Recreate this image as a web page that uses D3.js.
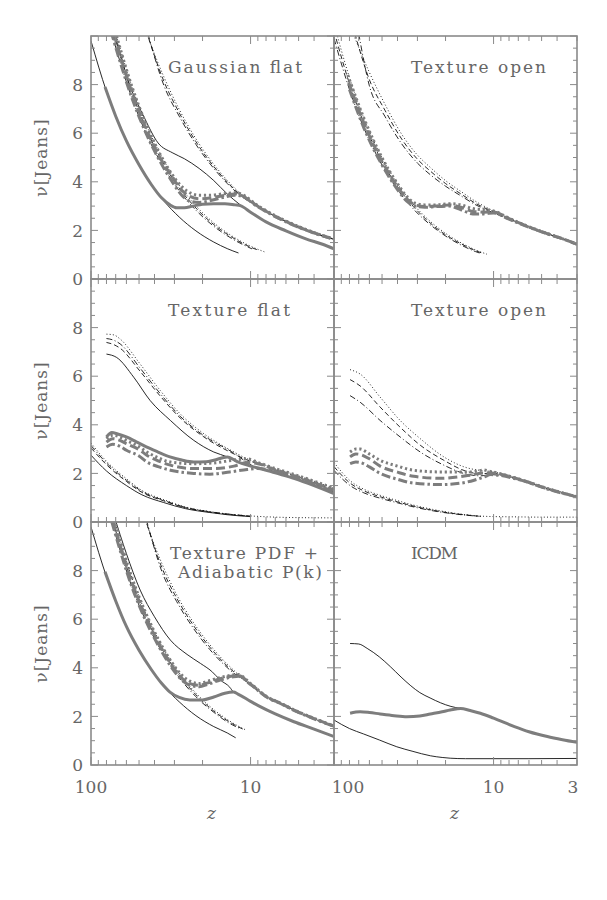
<!DOCTYPE html>
<html><head><meta charset="utf-8">
<script src="https://cdn.jsdelivr.net/npm/d3@7"></script>
<style>body{margin:0;background:#fff}svg{display:block}</style>
</head><body>
<svg id="c" width="607" height="900"></svg>
<script>
// ---------- DATA : [z, nu] pairs ----------
// Gaussian flat
const gfLoSolid = [[100,9.8],[80,7.72],[60,5.68],[45,4.19],[35,3.22],[28,2.55],[22,1.98],[17,1.52],[14,1.25],[11.9,1.07]];
const gfLoDot = [[72,10.4],[55,7.86],[45,6.35],[35,4.88],[28,3.86],[22,3.01],[17,2.31],[13,1.76],[10,1.35],[8.2,1.12]];
const gfLoDash = [[72,10.1],[55,7.62],[45,6.16],[35,4.73],[28,3.74],[22,2.92],[17,2.24],[13,1.71],[10,1.31],[8.8,1.17]];
const gfLoDashDot = [[75,10.2],[55,7.39],[45,5.97],[35,4.59],[28,3.63],[22,2.83],[17,2.17],[13,1.65],[9.8,1.24]];
const gfUpSolid = [[72,10.3],[58,8.1],[46,6.6],[38,5.6],[31,5.2],[26,4.95],[21,4.55],[17,4.05],[14,3.5],[11.6,3.05],[10,2.75],[8,2.35],[6,1.98],[4.5,1.65],[3.5,1.42],[3,1.24]];
const gfUpDot = [[46,10.3],[35,8.33],[28,6.98],[22,5.77],[17,4.72],[14,4.06],[11.5,3.5],[9,3.02],[7,2.6],[5,2.16],[4,1.91],[3,1.65]];
const gfUpDash = [[45,10.2],[35,8.15],[28,6.84],[22,5.65],[17,4.63],[14,3.99],[11.5,3.45],[9,2.99],[7,2.58],[5,2.14],[4,1.9],[3,1.64]];
const gfUpDashDot = [[44,10.1],[35,7.98],[28,6.7],[22,5.54],[17,4.55],[14,3.93],[11.5,3.42],[9,2.97],[7,2.57],[5,2.13],[4,1.89],[3,1.63]];
const gfThSolid = [[81.7,7.9],[70,6.7],[60,5.68],[50,4.7],[42,3.9],[36,3.33],[32,3.05],[29,2.93],[26,2.93],[23,3.0],[20,3.08],[17,3.1],[14.5,3.1],[12.5,3.05],[11.6,3.02],[10,2.75],[8,2.35],[6,1.98],[4.5,1.65],[3.5,1.42],[3,1.24]];
const gfThDot = [[72,10.4],[55,7.86],[45,6.35],[37,5.15],[31,4.3],[27,3.8],[24,3.55],[21,3.45],[18,3.45],[15,3.5],[12.5,3.55],[11.5,3.5],[9,3.02],[7,2.6],[5,2.16],[4,1.91],[3,1.65]];
const gfThDash = [[72,10.1],[55,7.62],[45,6.16],[37,5.0],[31,4.2],[27,3.65],[24,3.4],[21,3.3],[18,3.33],[15,3.43],[12.5,3.5],[11.5,3.45],[9,2.99],[7,2.58],[5,2.14],[4,1.9],[3,1.64]];
const gfThDashDot = [[75,10.2],[55,7.39],[45,5.97],[37,4.85],[31,4.0],[27,3.45],[24,3.2],[21,3.15],[18,3.22],[15,3.35],[12.5,3.45],[11.5,3.42],[9,2.97],[7,2.57],[5,2.13],[4,1.89],[3,1.63]];

// Texture open (top)
const toLoDot = [[100,10.5],[80,8.29],[65,6.62],[50,4.99],[40,3.92],[32,3.09],[25,2.38],[20,1.88],[16,1.49],[13,1.2],[11,1.02]];
const toLoDash = [[100,10.2],[80,8.04],[65,6.42],[50,4.84],[40,3.8],[32,3.0],[25,2.31],[20,1.82],[16,1.45],[13,1.17],[11.5,1.04]];
const toLoDashDot = [[100,9.9],[80,7.8],[65,6.22],[50,4.69],[40,3.68],[32,2.9],[25,2.24],[20,1.77],[16,1.4],[13,1.13],[12,1.05]];
const toUpDot = [[78,10.3],[60,8.5],[48,7.2],[38,6.0],[30,5.1],[25,4.6],[20,4.05],[16,3.6],[13,3.2],[10,2.8],[8,2.5],[6,2.15],[4.5,1.85],[3.5,1.6],[3,1.43]];
const toUpDash = [[74,10.1],[60,8.2],[48,6.95],[38,5.8],[30,4.93],[25,4.45],[20,3.93],[16,3.5],[13,3.12],[10,2.76],[8,2.48],[6,2.14],[4.5,1.84],[3.5,1.6],[3,1.43]];
const toUpDashDot = [[70,10.1],[60,7.95],[48,6.7],[38,5.6],[30,4.77],[25,4.3],[20,3.82],[16,3.42],[13,3.06],[10,2.72],[8,2.46],[6,2.13],[4.5,1.84],[3.5,1.6],[3,1.43]];
const toThDot = [[82,8.4],[65,6.62],[50,4.99],[40,3.92],[35,3.4],[31,3.12],[27,3.05],[23,3.05],[19,3.1],[16,3.05],[13.5,2.9],[11.5,2.85],[10,2.8],[8,2.5],[6,2.15],[4.5,1.85],[3.5,1.6],[3,1.43]];
const toThDash = [[81,8.1],[65,6.42],[50,4.84],[40,3.8],[35,3.3],[31,3.05],[27,2.98],[23,3.0],[19,3.05],[16,2.95],[13.5,2.78],[11.5,2.75],[10,2.76],[8,2.48],[6,2.14],[4.5,1.84],[3.5,1.6],[3,1.43]];
const toThDashDot = [[80,7.8],[65,6.22],[50,4.69],[40,3.68],[35,3.2],[31,3.0],[27,2.95],[23,2.98],[19,3.0],[16,2.85],[13.5,2.68],[11.5,2.68],[10,2.72],[8,2.46],[6,2.13],[4.5,1.84],[3.5,1.6],[3,1.43]];

// Texture flat
const tfLoSolid = [[100,2.75],[80,2.1],[60,1.5],[48,1.12],[35,0.8],[25.6,0.55],[18,0.39],[14,0.3],[10,0.22]];
const tfLoDash = [[100,3.05],[80,2.36],[60,1.67],[48,1.22],[35,0.87],[25.6,0.59],[18,0.41],[14,0.32],[10,0.24]];
const tfLoDashDot = [[100,3.15],[80,2.43],[60,1.72],[48,1.26],[35,0.89],[25.6,0.6],[18,0.42],[14,0.33],[10,0.24]];
const tfLoDot = [[100,3.25],[80,2.5],[60,1.78],[48,1.3],[35,0.92],[25.6,0.62],[18,0.43],[14,0.33],[10,0.25],[7,0.2],[5,0.18],[3,0.17]];
const tfUpSolid = [[80,6.91],[69,6.77],[54,5.96],[42.6,5.0],[31.8,4.18],[22.7,3.36],[17,2.88],[14,2.68],[12,2.47],[10,2.3],[8.7,2.2],[7,2.02],[5.3,1.79],[4,1.5],[3,1.17]];
const tfUpDot = [[80,7.73],[72,7.7],[65.7,7.53],[49.2,6.5],[36.8,5.41],[27.6,4.45],[19.6,3.63],[12.7,2.88],[10.5,2.6],[9,2.45],[7,2.2],[5.3,1.95],[4,1.68],[3,1.38]];
const tfUpDash = [[80,7.39],[72,7.3],[65.7,7.15],[49.2,6.2],[36.8,5.18],[27.6,4.28],[19.6,3.5],[12.7,2.8],[10.5,2.55],[9,2.4],[7,2.15],[5.3,1.9],[4,1.62],[3,1.31]];
const tfUpDashDot = [[80,7.55],[72,7.48],[65.7,7.33],[49.2,6.33],[36.8,5.28],[27.6,4.35],[19.6,3.55],[12.7,2.83],[10.5,2.45],[9,2.2],[7,2.08],[5.3,1.85],[4,1.57],[3,1.24]];
const tfThSolid = [[80,3.5],[74,3.68],[68,3.62],[60,3.5],[52,3.3],[45,3.09],[38,2.88],[32,2.68],[27,2.55],[22.7,2.47],[19,2.48],[17,2.54],[14,2.68],[12,2.47],[10,2.3],[8.7,2.2],[7,2.02],[5.3,1.79],[4,1.5],[3,1.17]];
const tfThDot = [[80,3.43],[73,3.57],[66,3.5],[60,3.36],[50,3.1],[44.7,2.88],[38,2.65],[31.8,2.47],[22.7,2.4],[17,2.43],[12.7,2.55],[10.5,2.6],[9,2.45],[7,2.2],[5.3,1.95],[4,1.68],[3,1.38]];
const tfThDash = [[80,3.29],[73,3.43],[66,3.36],[60,3.22],[50,2.98],[44.7,2.75],[38,2.52],[31.8,2.34],[22.7,2.2],[17,2.2],[12.7,2.3],[10.5,2.45],[9,2.4],[7,2.15],[5.3,1.9],[4,1.62],[3,1.31]];
const tfThDashDot = [[80,3.09],[73,3.2],[66,3.12],[60,2.95],[50,2.72],[44.7,2.47],[38,2.28],[31.8,2.13],[22.7,2.0],[18,1.97],[13.5,2.06],[10.5,2.16],[9,2.2],[7,2.08],[5.3,1.85],[4,1.57],[3,1.24]];

// Texture open (middle)
const moLoDot = [[100,2.45],[79.3,1.7],[65,1.35],[51.4,1.1],[40,0.88],[30.2,0.66],[22,0.47],[15.4,0.31],[11,0.23],[7,0.21],[5,0.2],[3,0.2]];
const moLoDash = [[100,2.28],[79.3,1.6],[65,1.28],[51.4,1.04],[40,0.83],[30.2,0.62],[22,0.44],[15.4,0.3],[12,0.23]];
const moLoDashDot = [[100,2.12],[79.3,1.5],[65,1.2],[51.4,0.98],[40,0.79],[30.2,0.59],[22,0.42],[15.4,0.29],[12,0.23]];
const moUpDot = [[79.3,6.27],[68.6,6.09],[51.4,5.14],[38.5,4.18],[28.8,3.43],[20.5,2.68],[15,2.25],[12,2.12],[10.4,2.08],[7.1,1.79],[4.6,1.38],[3,1.04]];
const moUpDash = [[79.3,5.86],[68.6,5.6],[51.4,4.73],[38.5,3.9],[28.8,3.16],[20.5,2.54],[15,2.1],[12,1.98],[10.4,2.02],[7.1,1.78],[4.6,1.37],[3,1.04]];
const moUpDashDot = [[79.3,5.2],[68.6,4.93],[51.4,4.18],[38.5,3.5],[28.8,2.88],[20.5,2.34],[15,1.98],[12,1.9],[10.4,1.95],[7.1,1.76],[4.6,1.36],[3,1.03]];
const moThDot = [[79.3,2.88],[73,3.0],[68.6,3.0],[60,2.8],[51.4,2.54],[40,2.3],[31.7,2.13],[21.5,2.06],[13.9,2.06],[11.5,2.14],[10.4,2.08],[7.1,1.79],[4.6,1.38],[3,1.04]];
const moThDash = [[79.3,2.68],[73,2.8],[68.6,2.78],[60,2.6],[51.4,2.3],[40,2.05],[31.7,1.88],[21.5,1.8],[13.9,1.93],[11.5,2.02],[10.4,2.02],[7.1,1.78],[4.6,1.37],[3,1.04]];
const moThDashDot = [[79.3,2.4],[73,2.47],[68.6,2.45],[60,2.27],[51.4,2.0],[40,1.76],[31.7,1.6],[21.5,1.54],[16,1.6],[13.9,1.68],[11.5,1.85],[10.4,1.95],[7.1,1.76],[4.6,1.36],[3,1.03]];

// Texture PDF + Adiabatic P(k)
const blLoSolid = [[100,9.8],[80,7.75],[60,5.7],[45,4.22],[35,3.25],[28,2.6],[22,2.03],[17,1.58],[14,1.32],[12.4,1.12]];
const blLoDot = [[73,10.3],[55,7.65],[45,6.2],[35,4.77],[28,3.79],[22,2.96],[17,2.28],[13,1.74],[10.7,1.44]];
const blLoDash = [[73,10.05],[55,7.46],[45,6.05],[35,4.65],[28,3.7],[22,2.89],[17,2.22],[13,1.7],[11.2,1.48]];
const blLoDashDot = [[74,10.0],[55,7.27],[45,5.89],[35,4.53],[28,3.6],[22,2.81],[17,2.17],[13,1.65],[11.8,1.52]];
const blUpSolid = [[72,10.3],[60,8.7],[49.2,7.2],[40,6.1],[31.8,5.14],[25,4.55],[20.6,4.18],[17.5,3.85],[15.5,3.5],[13.5,3.2],[12.8,3.0],[12,2.92],[10,2.62],[8.7,2.4],[7,2.1],[5.35,1.78],[4,1.48],[3,1.17]];
const blUpDot = [[47,10.3],[36,8.3],[29,7.0],[23,5.9],[18,4.95],[14.5,4.25],[12.5,3.85],[11.9,3.72],[10,3.35],[7.9,2.81],[6.5,2.55],[5.3,2.26],[4,1.92],[3,1.6]];
const blUpDash = [[46,10.2],[36,8.13],[29,6.86],[23,5.78],[18,4.85],[14.5,4.17],[12.5,3.79],[11.9,3.68],[10,3.33],[7.9,2.8],[6.5,2.54],[5.3,2.25],[4,1.91],[3,1.6]];
const blUpDashDot = [[45,10.1],[36,7.97],[29,6.72],[23,5.66],[18,4.75],[14.5,4.1],[12.5,3.74],[11.9,3.65],[10,3.31],[7.9,2.79],[6.5,2.53],[5.3,2.24],[4,1.9],[3,1.59]];
const blThSolid = [[81.7,7.95],[70,6.75],[60,5.7],[50,4.72],[42,3.94],[36,3.35],[32,3.0],[28,2.78],[24,2.68],[20,2.68],[17,2.8],[14.5,2.95],[12.8,3.0],[12,2.92],[10,2.62],[8.7,2.4],[7,2.1],[5.35,1.78],[4,1.48],[3,1.17]];
const blThDot = [[73,10.3],[55,7.65],[45,6.2],[37,5.05],[31,4.2],[27,3.7],[24,3.45],[21,3.35],[18.5,3.45],[15.5,3.6],[13,3.7],[11.9,3.72],[10,3.35],[7.9,2.81],[6.5,2.55],[5.3,2.26],[4,1.92],[3,1.6]];
const blThDash = [[73,10.05],[55,7.46],[45,6.05],[37,4.92],[31,4.08],[27,3.58],[24,3.35],[21,3.28],[18.5,3.38],[15.5,3.55],[13,3.66],[11.9,3.68],[10,3.33],[7.9,2.8],[6.5,2.54],[5.3,2.25],[4,1.91],[3,1.6]];
const blThDashDot = [[74,10.0],[55,7.27],[45,5.89],[37,4.8],[31,3.98],[27,3.5],[24,3.28],[21,3.22],[18.5,3.32],[15.5,3.5],[13,3.62],[11.9,3.65],[10,3.31],[7.9,2.79],[6.5,2.53],[5.3,2.24],[4,1.9],[3,1.59]];

// ICDM
const icLoSolid = [[100,1.85],[80,1.5],[65.4,1.28],[52,1.03],[40.4,0.75],[32,0.56],[24.9,0.38],[21,0.31],[18.7,0.28],[15,0.26],[10,0.26],[6,0.26],[3,0.27]];
const icUpSolid = [[79.3,5.0],[70,4.98],[62,4.8],[52,4.45],[44.4,4.05],[38,3.62],[33,3.26],[29,2.98],[25,2.76],[21.5,2.56],[18.5,2.41],[16.1,2.33]];
const icThSolid = [[79.3,2.13],[68.6,2.19],[60,2.16],[51.4,2.1],[42,2.03],[34.9,1.99],[29,2.02],[24.9,2.1],[21,2.19],[18.7,2.26],[16.1,2.33],[14,2.24],[12.1,2.13],[10,1.93],[7.4,1.58],[6,1.37],[4.6,1.17],[3.7,1.04],[3,0.93]];

// axes
const zTicks = [100,90,80,70,60,50,40,30,20,10,9,8,7,6,5,4,3];
const zMajor = [100,10];
const yLabels = [0,2,4,6,8];
const xLabelsLeft = [[100,"100"],[10,"10"]];
const xLabelsRight = [[100,"100"],[10,"10"],[3,"3"]];
const titles = [["Gaussian flat"],["Texture open"],["Texture flat"],["Texture open"],["Texture PDF +","Adiabatic P(k)"],["ICDM"]];

// ---------- LAYOUT ----------
const svg = d3.select("#c");
const colLeft = [91,334], W = 243, rowTop = [36,279,522], H = 243;
const FONT = "DejaVu Serif";
const TXT = "#666", AX = "#8a8a8a", THIN = "#111", THICK = "#7d7d7d";
const thinDash = {solid:null, dot:"1,2.2", dash:"5,3", dashdot:"6,2.5,1,2.5"};
const thickDash = {solid:null, dot:"2.2,2.8", dash:"9,4", dashdot:"9,3,2.5,3"};

function C(d, style, thick){ return {d, style, thick}; }
const panels = [
 {r:0,c:0, curves:[C(gfLoSolid,"solid"),C(gfLoDot,"dot"),C(gfLoDash,"dash"),C(gfLoDashDot,"dashdot"),C(gfUpSolid,"solid"),C(gfUpDot,"dot"),C(gfUpDash,"dash"),C(gfUpDashDot,"dashdot"),
   C(gfThSolid,"solid",1),C(gfThDot,"dot",1),C(gfThDash,"dash",1),C(gfThDashDot,"dashdot",1)]},
 {r:0,c:1, curves:[C(toLoDot,"dot"),C(toLoDash,"dash"),C(toLoDashDot,"dashdot"),C(toUpDot,"dot"),C(toUpDash,"dash"),C(toUpDashDot,"dashdot"),
   C(toThDot,"dot",1),C(toThDash,"dash",1),C(toThDashDot,"dashdot",1)]},
 {r:1,c:0, curves:[C(tfLoSolid,"solid"),C(tfLoDot,"dot"),C(tfLoDash,"dash"),C(tfLoDashDot,"dashdot"),C(tfUpSolid,"solid"),C(tfUpDot,"dot"),C(tfUpDash,"dash"),C(tfUpDashDot,"dashdot"),
   C(tfThSolid,"solid",1),C(tfThDot,"dot",1),C(tfThDash,"dash",1),C(tfThDashDot,"dashdot",1)]},
 {r:1,c:1, curves:[C(moLoDot,"dot"),C(moLoDash,"dash"),C(moLoDashDot,"dashdot"),C(moUpDot,"dot"),C(moUpDash,"dash"),C(moUpDashDot,"dashdot"),
   C(moThDot,"dot",1),C(moThDash,"dash",1),C(moThDashDot,"dashdot",1)]},
 {r:2,c:0, curves:[C(blLoSolid,"solid"),C(blLoDot,"dot"),C(blLoDash,"dash"),C(blLoDashDot,"dashdot"),C(blUpSolid,"solid"),C(blUpDot,"dot"),C(blUpDash,"dash"),C(blUpDashDot,"dashdot"),
   C(blThSolid,"solid",1),C(blThDot,"dot",1),C(blThDash,"dash",1),C(blThDashDot,"dashdot",1)]},
 {r:2,c:1, curves:[C(icLoSolid,"solid"),C(icUpSolid,"solid"),C(icThSolid,"solid",1)]}
];
const titlePos = [ // x, baseline, textLength per line
 [[168,73,134]],[[411,73,135]],[[168,316,122]],[[411,316,135]],[[170,559,148],[178,578,144]],[[411,559,47]]
];

panels.forEach((p,i)=>{
  const x0 = colLeft[p.c], y0 = rowTop[p.r];
  const x = d3.scaleLog().domain([100,3]).range([x0, x0+W]);
  const y = d3.scaleLinear().domain([0,10]).range([y0+H, y0]);
  const g = svg.append("g");
  const cid = "clip"+i;
  svg.append("clipPath").attr("id",cid).append("rect").attr("x",x0).attr("y",y0).attr("width",W).attr("height",H);
  const line = d3.line().x(d=>x(d[0])).y(d=>y(d[1])).curve(d3.curveMonotoneX);
  const cg = g.append("g").attr("clip-path",`url(#${cid})`);
  p.curves.filter(c=>!c.thick).forEach(c=>{
    cg.append("path").attr("d",line(c.d)).attr("fill","none").attr("stroke",THIN).attr("stroke-width",0.9)
      .attr("stroke-dasharray",thinDash[c.style]);
  });
  p.curves.filter(c=>c.thick).forEach(c=>{
    cg.append("path").attr("d",line(c.d)).attr("fill","none").attr("stroke",THICK).attr("stroke-width",3)
      .attr("stroke-dasharray",thickDash[c.style]);
  });
  // ticks
  const tg = g.append("g").attr("stroke",AX).attr("stroke-width",1);
  zTicks.forEach(v=>{
    const L = zMajor.includes(v)?8:5, xx = x(v);
    tg.append("line").attr("x1",xx).attr("x2",xx).attr("y1",y0+H).attr("y2",y0+H-L);
    tg.append("line").attr("x1",xx).attr("x2",xx).attr("y1",y0).attr("y2",y0+L);
  });
  d3.range(0,10.01,0.5).forEach(v=>{
    const L = (v%2===0)?7:4, yy = y(v);
    tg.append("line").attr("x1",x0).attr("x2",x0+L).attr("y1",yy).attr("y2",yy);
    tg.append("line").attr("x1",x0+W).attr("x2",x0+W-L).attr("y1",yy).attr("y2",yy);
  });
  g.append("rect").attr("x",x0).attr("y",y0).attr("width",W).attr("height",H)
    .attr("fill","none").attr("stroke",AX).attr("stroke-width",1.6);
  // titles
  titles[i].forEach((t,k)=>{
    const tp = titlePos[i][k];
    g.append("text").attr("x",tp[0]).attr("y",tp[1]).attr("textLength",tp[2]).attr("lengthAdjust","spacing")
      .attr("font-family",FONT).attr("font-size",17).attr("fill",TXT).text(t);
  });
  // y labels (left column)
  if (p.c===0){
    yLabels.forEach(v=>{
      g.append("text").attr("x",x0-8).attr("y",y(v)).attr("dy","0.36em").attr("text-anchor","end")
        .attr("font-family",FONT).attr("font-size",17).attr("fill",TXT).text(v);
    });
    g.append("text").attr("transform",`translate(47,${y0+H/2}) rotate(-90)`).attr("text-anchor","middle")
      .attr("font-family",FONT).attr("font-size",17).attr("letter-spacing",1).attr("fill",TXT).text("ν[Jeans]");
  }
  // x labels (bottom row)
  if (p.r===2){
    const labs = p.c===0 ? xLabelsLeft : xLabelsRight;
    labs.forEach(([v,t])=>{
      let xx = x(v);
      if (p.c===1 && v===100) xx += 14;
      if (p.c===1 && v===3) xx -= 4;
      g.append("text").attr("x",xx).attr("y",y0+H+28).attr("text-anchor","middle")
        .attr("font-family",FONT).attr("font-size",17).attr("fill",TXT).text(t);
    });
    g.append("text").attr("x",x0+W/2-1).attr("y",y0+H+54).attr("text-anchor","middle")
      .attr("font-family",FONT).attr("font-style","italic").attr("font-size",17).attr("fill",TXT).text("z");
  }
});
</script>
</body></html>
